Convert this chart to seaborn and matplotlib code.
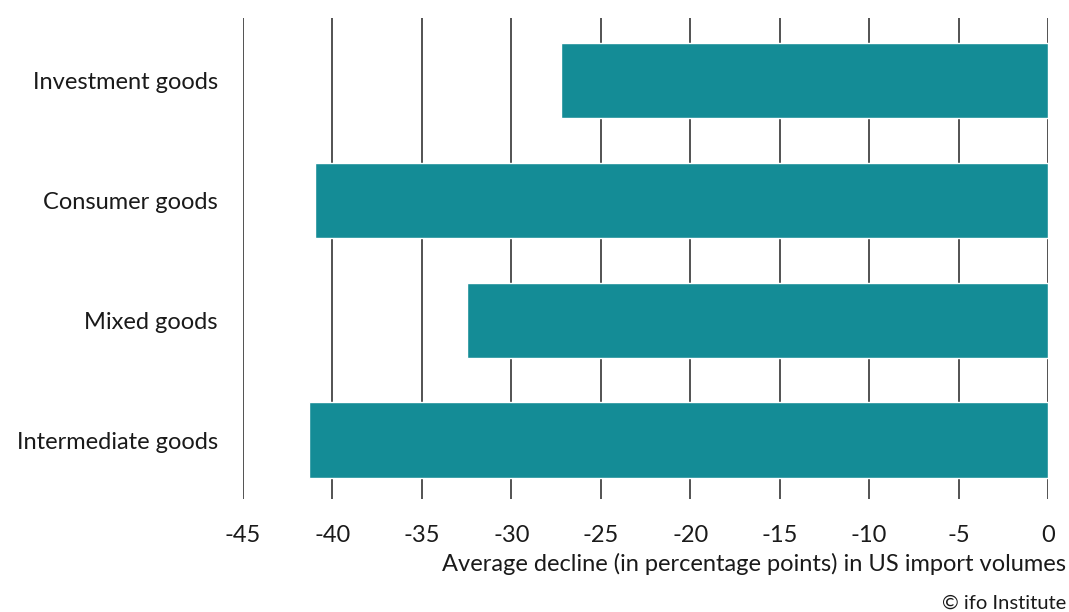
import matplotlib
matplotlib.use("Agg")
import matplotlib.pyplot as plt
import seaborn as sns
import pandas as pd

categories = ["Investment goods", "Consumer goods", "Mixed goods", "Intermediate goods"]
values = [-27.2, -41.0, -32.5, -41.3]
xticks = [-45, -40, -35, -30, -25, -20, -15, -10, -5, 0]

sns.set_style("white")
plt.rcParams['font.family'] = ['Lato', 'DejaVu Sans']

df = pd.DataFrame({"category": categories, "value": values})

fig = plt.figure(figsize=(10.69, 6.12), dpi=100)
ax = fig.add_axes([0.2273, 0.1846, 0.7531, 0.786])

sns.barplot(data=df, x="value", y="category", color="#148C96", saturation=1,
            width=0.63, ax=ax, orient="h")

ax.set_xlim(-45, 0)
ax.set_ylim(3.49, -0.52)
ax.set_xticks(xticks)
ax.set_xticklabels([str(t) for t in xticks], fontsize=17, color="#1a1a1a")
ax.tick_params(axis="y", labelsize=17, labelcolor="#1a1a1a", length=0, pad=18)
ax.tick_params(axis="x", length=0, pad=19)
ax.set_axisbelow(True)
ax.grid(axis="x", color="#444444", linewidth=1.3)
ax.grid(axis="y", visible=False)
for s in ax.spines.values():
    s.set_visible(False)
ax.set_ylabel("")
ax.set_xlabel("")

fig.text(0.997, 0.079, "Average decline (in percentage points) in US import volumes",
         ha="right", va="center", fontsize=17, color="#1a1a1a")
fig.text(0.997, 0.014, "© ifo Institute", ha="right", va="center", fontsize=14.5, color="#1a1a1a")

fig.savefig("out.png", dpi=100)
